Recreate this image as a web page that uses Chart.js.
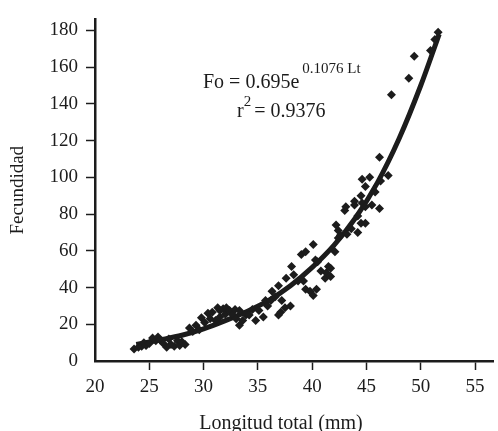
<!DOCTYPE html>
<html>
<head>
<meta charset="utf-8">
<script src="https://cdn.jsdelivr.net/npm/chart.js@4"></script>
<style>
  body { margin: 0; background: #fff; }
  #wrap { width: 498px; height: 431px; }
</style>
</head>
<body>
<div id="wrap"><canvas id="fecundidadChart"></canvas></div>
<script>
// Longitud total (mm) y fecundidad de cada hembra
const longitud = [
  23.6, 24.0, 24.3, 24.5, 24.7, 25.0, 25.3, 25.6, 25.8, 26.0,
  26.3, 26.6, 26.8, 27.0, 27.3, 27.6, 27.8, 28.0, 28.3, 28.7,
  29.0, 29.3, 29.6, 29.8, 30.1, 30.4, 30.6, 30.8, 31.1, 31.3,
  31.5, 31.5, 31.8, 32.0, 32.1, 32.4, 32.7, 32.9, 33.0, 33.3,
  33.3, 33.6, 33.9, 34.2, 34.5, 34.8, 35.1, 35.5, 35.7, 35.9,
  36.2, 36.3, 36.6, 36.9, 36.9, 37.1, 37.2, 37.5, 37.6, 38.0,
  38.1, 38.3, 38.7, 39.0, 39.2, 39.4, 39.4, 39.8, 40.1, 40.1,
  40.3, 40.5, 40.4, 40.8, 41.2, 41.3, 41.5, 41.7, 41.7, 42.1,
  42.2, 42.4, 42.4, 42.6, 43.0, 43.1, 43.2, 43.6, 43.9, 43.9,
  44.2, 44.2, 44.5, 44.5, 44.6, 44.6, 44.9, 44.9, 44.9, 45.3,
  45.5, 45.8, 46.2, 46.2, 46.3, 47.0, 47.3, 48.9, 49.4, 50.9,
  51.3, 51.6
];
const fecundidad = [
  6.5, 7.5, 8, 10, 8.5, 9.5, 12.5, 11, 13, 11.5,
  9.5, 7.5, 12, 9, 8, 11, 8.5, 10.5, 9, 18,
  16, 19.5, 17, 23.5, 21, 26, 23, 26.5, 22, 29,
  27.5, 24, 28.5, 25.5, 29, 27.5, 25, 28, 23, 27.5,
  19.5, 22, 25, 25, 28, 22, 27.5, 24, 33, 30,
  33, 38, 35, 41, 25, 26.5, 33, 29, 45, 30,
  51.5, 47, 43.5, 58, 43.5, 39, 59.5, 38, 35.6, 63.5,
  55, 54, 39, 49, 45, 48, 51.5, 46, 50.5, 59.5,
  74, 67, 71, 68.5, 82, 84, 69, 72, 85, 87,
  70, 79, 75, 90, 86, 99, 75, 84, 95, 100,
  85, 92, 83, 111, 98, 101, 145, 154, 166, 169,
  175, 179
];

// Curva ajustada
const curvaL = [23.8, 26, 28, 30, 32, 34, 36, 38, 40, 42, 44, 46, 48, 50, 51.7];
const curvaF = [9, 11.5, 14, 17.5, 22, 27, 33, 41, 51, 63, 78, 97, 121, 150, 178];

const tinta = '#1c1c1c';
const serif = "'Liberation Serif', 'DejaVu Serif', serif";

const puntos = longitud.map((l, i) => ({ x: l, y: fecundidad[i] }));
const curva = curvaL.map((l, i) => ({ x: l, y: curvaF[i] }));

// Ecuacion y titulo del eje x
const textos = {
  id: 'textos',
  afterDraw(chart) {
    const ctx = chart.ctx;
    ctx.save();
    ctx.fillStyle = tinta;
    ctx.textBaseline = 'alphabetic';
    ctx.textAlign = 'left';

    ctx.font = '20px ' + serif;
    const t1 = 'Fo = 0.695e';
    ctx.fillText(t1, 203, 88);
    let x = 203 + ctx.measureText(t1).width + 3;
    ctx.font = '15px ' + serif;
    ctx.fillText('0.1076 Lt', x, 73);

    ctx.font = '20px ' + serif;
    ctx.fillText('r', 237, 117);
    x = 237 + ctx.measureText('r').width;
    ctx.font = '15px ' + serif;
    ctx.fillText('2', x, 106);
    x += ctx.measureText('2').width + 3;
    ctx.font = '20px ' + serif;
    ctx.fillText('= 0.9376', x, 117);

    ctx.textAlign = 'center';
    ctx.fillText('Longitud total (mm)', 281, 429);
    ctx.restore();
  }
};

const ctx = document.getElementById('fecundidadChart').getContext('2d');
new Chart(ctx, {
  type: 'scatter',
  data: {
    datasets: [
      {
        label: 'Fecundidad',
        data: puntos,
        pointStyle: 'rectRot',
        pointRadius: 4.5,
        backgroundColor: tinta,
        borderColor: tinta,
        borderWidth: 0
      },
      {
        type: 'line',
        label: 'Ajuste',
        data: curva,
        borderColor: tinta,
        borderWidth: 5,
        pointRadius: 0,
        fill: false,
        cubicInterpolationMode: 'monotone'
      }
    ]
  },
  options: {
    responsive: true,
    maintainAspectRatio: false,
    animation: false,
    layout: { padding: { top: 12, right: 0, bottom: 0, left: 0 } },
    plugins: {
      legend: { display: false },
      tooltip: { enabled: false }
    },
    scales: {
      x: {
        type: 'linear',
        min: 20,
        max: 56.7,
        afterFit: s => { s.height = 70; },
        border: { display: true, color: tinta, width: 2.5 },
        grid: {
          drawOnChartArea: false,
          drawTicks: true,
          tickLength: 9,
          tickWidth: 1.5,
          tickColor: c => c.tick && c.tick.value === 20 ? 'rgba(0,0,0,0)' : tinta
        },
        ticks: {
          stepSize: 5,
          includeBounds: false,
          padding: 6,
          color: tinta,
          font: { family: serif, size: 19 }
        }
      },
      y: {
        min: 0,
        max: 186,
        afterFit: s => { s.width = 95; },
        border: { display: true, color: tinta, width: 2.5 },
        grid: {
          drawOnChartArea: false,
          drawTicks: true,
          tickLength: 9,
          tickWidth: 1.5,
          tickColor: c => c.tick && c.tick.value === 0 ? 'rgba(0,0,0,0)' : tinta
        },
        ticks: {
          stepSize: 20,
          includeBounds: false,
          padding: 8,
          color: tinta,
          font: { family: serif, size: 19 }
        },
        title: {
          display: true,
          text: 'Fecundidad',
          color: tinta,
          padding: { top: 7, bottom: 0 },
          font: { family: serif, size: 19 }
        }
      }
    }
  },
  plugins: [textos]
});
</script>
</body>
</html>
